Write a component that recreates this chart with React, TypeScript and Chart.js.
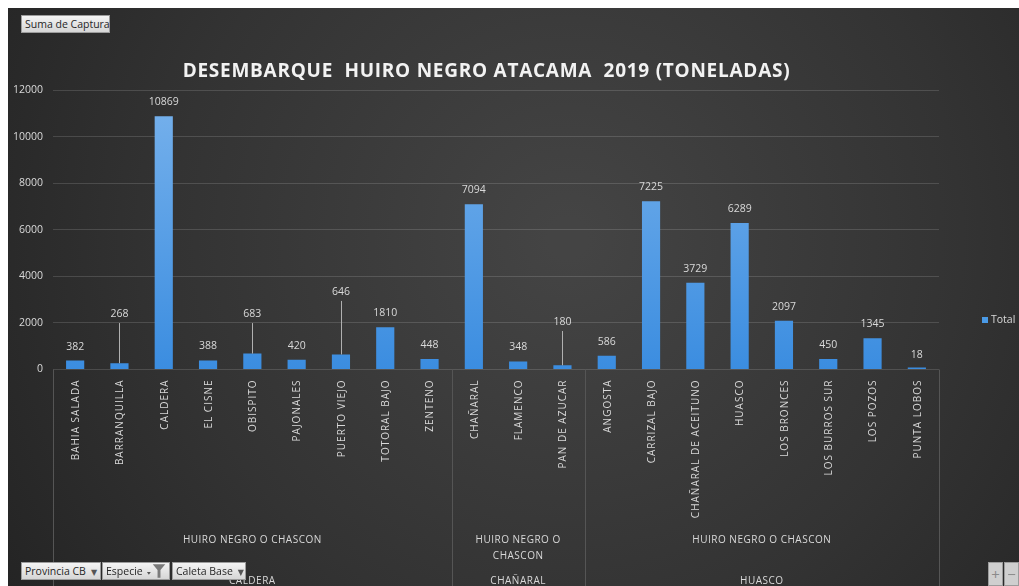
import React, { useEffect, useRef } from 'react';
import { Chart, registerables } from 'chart.js';

Chart.register(...registerables);

// ---------------- DATA ----------------
const caletas = [
  'BAHIA SALADA', 'BARRANQUILLA', 'CALDERA', 'EL CISNE', 'OBISPITO', 'PAJONALES',
  'PUERTO VIEJO', 'TOTORAL BAJO', 'ZENTENO',
  'CHAÑARAL', 'FLAMENCO', 'PAN DE AZUCAR',
  'ANGOSTA', 'CARRIZAL BAJO', 'CHAÑARAL DE ACEITUNO', 'HUASCO', 'LOS BRONCES',
  'LOS BURROS SUR', 'LOS POZOS', 'PUNTA LOBOS',
];
const totals = [382, 268, 10869, 388, 683, 420, 646, 1810, 448, 7094, 348, 180, 586, 7225, 3729, 6289, 2097, 450, 1345, 18];
const provincias = ['CALDERA', 'CHAÑARAL', 'HUASCO'];
const provinciaSizes = [9, 3, 8];
const especies = ['HUIRO NEGRO O CHASCON', 'HUIRO NEGRO O CHASCON', 'HUIRO NEGRO O CHASCON'];
const yTicks = { min: 0, max: 12000, step: 2000 };
const seriesName = 'Total';
const titleText = 'DESEMBARQUE  HUIRO NEGRO ATACAMA  2019 (TONELADAS)';
// data labels that Excel moved up with a leader line (label anchor, in value units)
const leaderLabelAt: Record<string, number> = {
  BARRANQUILLA: 2380,
  OBISPITO: 2380,
  'PUERTO VIEJO': 3330,
  'PAN DE AZUCAR': 2040,
};

// ---------------- LAYOUT ----------------
const W = 1011;
const H = 578;
const TXT = '#d9d9d9';
const FONT = '"Open Sans", "DejaVu Sans", sans-serif';

const overlayPlugin = {
  id: 'overlay',
  beforeDraw(chart: any) {
    const ctx = chart.ctx;
    ctx.save();
    const g = ctx.createRadialGradient(560, 230, 20, 560, 230, 700);
    g.addColorStop(0, '#444444');
    g.addColorStop(0.55, '#333333');
    g.addColorStop(1, '#222222');
    ctx.fillStyle = g;
    ctx.fillRect(0, 0, chart.width, chart.height);
    ctx.restore();
  },
  afterDraw(chart: any) {
    const ctx = chart.ctx;
    const xs = chart.scales.x;
    const ys = chart.scales.y;
    const area = chart.chartArea;
    const catW = xs.getPixelForValue(1) - xs.getPixelForValue(0);
    const edge = (i: number) => xs.getPixelForValue(i) - catW / 2;

    ctx.save();
    // ---- title ----
    ctx.font = `bold 19px ${FONT}`;
    ctx.fillStyle = '#f2f2f2';
    ctx.textAlign = 'center';
    ctx.textBaseline = 'middle';
    (ctx as any).letterSpacing = '0px';
    const tw = ctx.measureText(titleText).width;
    const sp = Math.max(0, (607 - tw) / (titleText.length - 1));
    (ctx as any).letterSpacing = `${sp}px`;
    ctx.fillText(titleText, 478.5, 64);
    (ctx as any).letterSpacing = '0px';

    // ---- group dividers ----
    ctx.strokeStyle = '#555555';
    ctx.lineWidth = 1;
    let idx = 0;
    const bounds = [0];
    provinciaSizes.forEach((n) => { idx += n; bounds.push(idx); });
    bounds.forEach((b) => {
      const px = Math.round(b === caletas.length ? area.right : edge(b)) + 0.5;
      ctx.beginPath();
      ctx.moveTo(px, area.bottom);
      ctx.lineTo(px, chart.height);
      ctx.stroke();
    });

    // ---- category labels (rotated) ----
    ctx.font = `10px ${FONT}`;
    (ctx as any).letterSpacing = '1px';
    ctx.fillStyle = TXT;
    caletas.forEach((c, i) => {
      ctx.save();
      ctx.translate(xs.getPixelForValue(i) + 1, area.bottom + 10);
      ctx.rotate(-Math.PI / 2);
      ctx.textAlign = 'right';
      ctx.textBaseline = 'middle';
      ctx.fillText(c, 0, 0);
      ctx.restore();
    });

    // ---- group labels ----
    ctx.font = `10px ${FONT}`;
    (ctx as any).letterSpacing = '0.5px';
    ctx.textAlign = 'center';
    ctx.textBaseline = 'middle';
    provincias.forEach((p, g) => {
      const l = edge(bounds[g]);
      const r = bounds[g + 1] === caletas.length ? area.right : edge(bounds[g + 1]);
      const cx = (l + r) / 2;
      const spc = especies[g];
      if (ctx.measureText(spc).width > r - l - 12) {
        const words = spc.split(' ');
        const first = words.slice(0, words.length - 1).join(' ');
        ctx.fillText(first, cx, 532);
        ctx.fillText(words[words.length - 1], cx, 548);
      } else {
        ctx.fillText(spc, cx, 532);
      }
      ctx.fillText(p, cx, 573);
    });
    (ctx as any).letterSpacing = '0px';

    // ---- data labels ----
    ctx.font = `10.5px ${FONT}`;
    ctx.fillStyle = TXT;
    ctx.textAlign = 'center';
    ctx.textBaseline = 'middle';
    totals.forEach((v, i) => {
      const x = xs.getPixelForValue(i);
      const top = ys.getPixelForValue(v);
      const anchor = leaderLabelAt[caletas[i]];
      if (anchor !== undefined) {
        const ly = ys.getPixelForValue(anchor);
        ctx.strokeStyle = '#b0b0b0';
        ctx.beginPath();
        ctx.moveTo(Math.round(x) + 0.5, ly + 9);
        ctx.lineTo(Math.round(x) + 0.5, top);
        ctx.stroke();
        ctx.fillText(String(v), x, ly);
      } else {
        ctx.fillText(String(v), x, top - 14);
      }
    });

    // ---- legend ----
    ctx.fillStyle = '#4a9ae6';
    ctx.fillRect(974, 309, 6, 6);
    ctx.fillStyle = TXT;
    ctx.font = `10.5px ${FONT}`;
    ctx.textAlign = 'left';
    ctx.fillText(seriesName, 983, 312);
    ctx.restore();
  },
};

const btn: React.CSSProperties = {
  position: 'absolute',
  boxSizing: 'border-box',
  background: 'linear-gradient(#f4f4f4, #d6d6d6)',
  border: '1px solid #9c9c9c',
  color: '#262626',
  font: `10.5px ${FONT}`,
  display: 'flex',
  alignItems: 'center',
  padding: '0 3px',
  whiteSpace: 'nowrap',
  overflow: 'hidden',
};
const arrow: React.CSSProperties = { fontSize: 8, marginLeft: 5, color: '#555' };

export default function App() {
  const ref = useRef<HTMLCanvasElement | null>(null);
  useEffect(() => {
    document.documentElement.style.overflow = 'hidden';
    document.body.style.overflow = 'hidden';
    const canvas = ref.current;
    if (!canvas) return;
    const chart = new Chart(canvas, {
      type: 'bar',
      data: {
        labels: caletas,
        datasets: [
          {
            label: seriesName,
            data: totals,
            backgroundColor: (c: any) => {
              const { ctx, chartArea } = c.chart;
              if (!chartArea) return '#4a9ae6';
              const g = ctx.createLinearGradient(0, chartArea.top, 0, chartArea.bottom);
              g.addColorStop(0, '#78b2ec');
              g.addColorStop(1, '#3b8de0');
              return g;
            },
            borderWidth: 0,
            minBarLength: 2,
            categoryPercentage: 1,
            barPercentage: 0.41,
          },
        ],
      },
      options: {
        responsive: false,
        animation: false,
        devicePixelRatio: 1,
        layout: { padding: { top: 82, right: 80, left: 0, bottom: 0 } },
        plugins: {
          legend: { display: false },
          title: { display: false },
          tooltip: { enabled: false },
        },
        scales: {
          x: {
            grid: { display: false },
            border: { display: false },
            ticks: { display: false },
            afterFit: (s: any) => { s.height = 216.5; },
          },
          y: {
            min: yTicks.min,
            max: yTicks.max,
            ticks: {
              stepSize: yTicks.step,
              color: TXT,
              font: { family: FONT, size: 10.5 },
              padding: 10,
              callback: (v: any) => String(v),
            },
            grid: { color: 'rgba(255,255,255,0.14)', drawTicks: false },
            border: { display: false },
            afterFit: (s: any) => { s.width = 45; },
          },
        },
      },
      plugins: [overlayPlugin],
    } as any);
    return () => chart.destroy();
  }, []);

  return (
    <div style={{ position: 'fixed', left: 8, top: 8, width: W, height: H }}>
      <canvas ref={ref} width={W} height={H} style={{ display: 'block' }} />
      <div style={{ ...btn, left: 13, top: 7, width: 89, height: 18 }}>Suma de Captura</div>
      <div style={{ ...btn, left: 13, top: 554, width: 80, height: 18 }}>
        Provincia CB<span style={arrow}>▼</span>
      </div>
      <div style={{ ...btn, left: 94, top: 554, width: 68, height: 18 }}>
        Especie
        <svg width="22" height="16" viewBox="0 0 22 16" style={{ marginLeft: 2 }}>
          <path d="M2 9 L6 9 L4 12 Z" fill="#555" />
          <path d="M8 1 L21 1 L16 7 L16 15 L13 15 L13 7 Z" fill="#7a7a7a" />
        </svg>
      </div>
      <div style={{ ...btn, left: 164, top: 554, width: 74, height: 18 }}>
        Caleta Base<span style={arrow}>▼</span>
      </div>
      <div style={{ ...btn, left: 980, top: 554, width: 15, height: 24, justifyContent: 'center', padding: 0, color: '#8a8a8a', fontSize: 15, background: '#cfcfcf' }}>+</div>
      <div style={{ ...btn, left: 996, top: 554, width: 15, height: 24, justifyContent: 'center', padding: 0, color: '#8a8a8a', fontSize: 15, background: '#cfcfcf' }}>−</div>
    </div>
  );
}
